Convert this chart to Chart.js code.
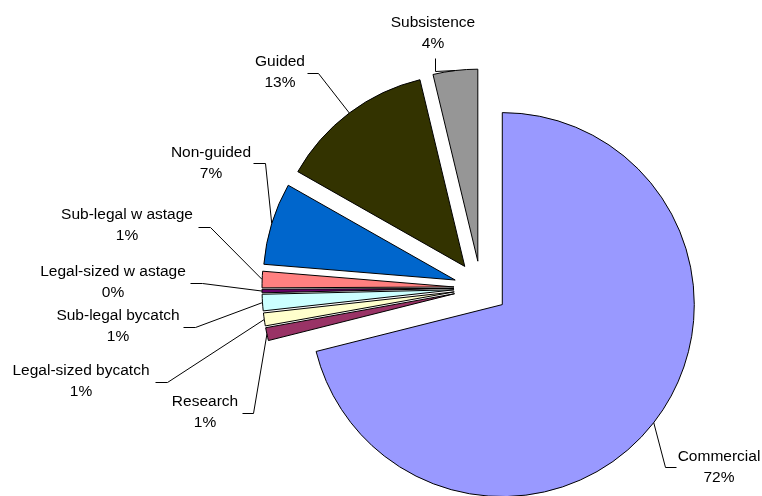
<!DOCTYPE html>
<html>
<head>
<meta charset="utf-8">
<script src="https://cdn.jsdelivr.net/npm/chart.js@4/dist/chart.umd.min.js"></script>
<style>
html,body{margin:0;padding:0;background:#fff;}
canvas{display:block;}
</style>
</head>
<body>
<canvas id="c" width="762" height="496"></canvas>
<script>
const categories = ["Commercial", "Research", "Legal-sized bycatch", "Sub-legal bycatch", "Legal-sized w astage", "Sub-legal w astage", "Non-guided", "Guided", "Subsistence"];
// values in percent as labelled in the source table
const shares = [72.0, 1.1, 1.1, 1.4, 0.3, 1.4, 7.0, 13.2, 3.8];
const colors = ["#9999FF", "#993366", "#FFFFCC", "#CCFFFF", "#660066", "#FF8080", "#0066CC", "#333300", "#969696"];

// label layout: text center x, first baseline y, leader start and elbow
const labelLayout = [
  {tx: 719, ty: 461, lead: [[676, 467], [665, 467]]},
  {tx: 205, ty: 406, lead: [[242, 413], [253, 413]]},
  {tx: 81,  ty: 375, lead: [[155, 382], [167, 382]]},
  {tx: 118, ty: 320, lead: [[183, 327], [195, 327]]},
  {tx: 113, ty: 276, lead: [[190, 283], [202, 283]]},
  {tx: 127, ty: 219, lead: [[198, 227], [210, 227]]},
  {tx: 211, ty: 157, lead: [[253, 163], [265, 163]]},
  {tx: 280, ty: 66,  lead: [[307, 73], [318, 73]]},
  {tx: 433, ty: 27,  lead: [[435, 58], [435, 71]]}
];
const EXPLODE = 27;

function explodeVec(arc) {
  const half = (arc.startAngle + arc.endAngle) / 2;
  return [Math.cos(half) * EXPLODE, Math.sin(half) * EXPLODE];
}

const explodePlugin = {
  id: 'explode',
  beforeDatasetDraw(chart, args) {
    args.meta.data.forEach((arc) => {
      if (arc._exploded) return;
      const orig = arc.draw;
      arc.draw = function (ctx) {
        const v = explodeVec(this);
        ctx.save();
        ctx.translate(v[0], v[1]);
        orig.call(this, ctx);
        ctx.restore();
      };
      arc._exploded = true;
    });
  }
};

const labelPlugin = {
  id: 'sliceLabels',
  afterDatasetsDraw(chart) {
    const ctx = chart.ctx;
    const meta = chart.getDatasetMeta(0);
    ctx.save();
    ctx.font = '15.5px "Liberation Sans", Arial, sans-serif';
    ctx.fillStyle = '#000';
    ctx.strokeStyle = '#000';
    ctx.lineWidth = 1;
    ctx.textAlign = 'center';
    ctx.textBaseline = 'alphabetic';
    meta.data.forEach((arc, i) => {
      const L = labelLayout[i];
      const v = explodeVec(arc);
      const half = (arc.startAngle + arc.endAngle) / 2;
      const ex = arc.x + v[0] + Math.cos(half) * arc.outerRadius;
      const ey = arc.y + v[1] + Math.sin(half) * arc.outerRadius;
      ctx.beginPath();
      ctx.moveTo(L.lead[0][0] + 0.5, L.lead[0][1] + 0.5);
      ctx.lineTo(L.lead[1][0] + 0.5, L.lead[1][1] + 0.5);
      ctx.lineTo(ex, ey);
      ctx.stroke();
      ctx.fillText(categories[i], L.tx, L.ty);
      ctx.fillText(Math.round(shares[i]) + '%', L.tx, L.ty + 21);
    });
    ctx.restore();
  }
};

new Chart(document.getElementById('c'), {
  type: 'pie',
  data: {
    labels: categories,
    datasets: [{
      data: shares,
      backgroundColor: colors,
      borderColor: '#000',
      borderWidth: 1,
      radius: 192
    }]
  },
  options: {
    responsive: false,
    animation: false,
    layout: {padding: {left: 200, right: 0, top: 80, bottom: 0}},
    plugins: {legend: {display: false}, tooltip: {enabled: false}}
  },
  plugins: [explodePlugin, labelPlugin]
});
</script>
</body>
</html>
